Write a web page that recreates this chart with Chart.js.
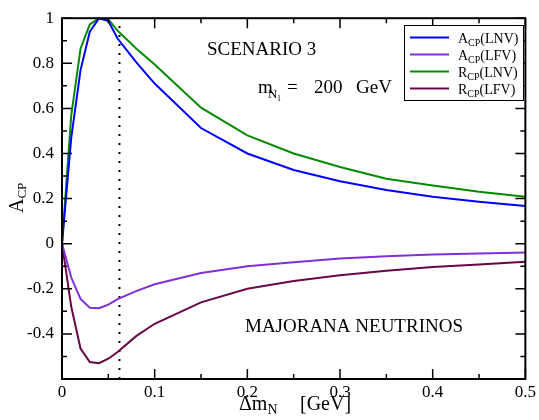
<!DOCTYPE html>
<html>
<head>
<meta charset="utf-8">
<script src="https://cdn.jsdelivr.net/npm/chart.js@4"></script>
<style>
  html, body { margin: 0; padding: 0; background: #fff; }
  #wrap { width: 539px; height: 420px; }
</style>
</head>
<body>
<div id="wrap"><canvas id="grafik"></canvas></div>
<script>
// data (delta m_N in GeV)
const xValues = [0, 0.01, 0.02, 0.03, 0.04, 0.05, 0.06, 0.08, 0.1, 0.15, 0.2, 0.25, 0.3, 0.35, 0.4, 0.45, 0.5];
const aCpLnv = [0, 0.47, 0.77, 0.94, 1.0, 0.987, 0.91, 0.805, 0.71, 0.513, 0.40, 0.327, 0.277, 0.238, 0.208, 0.186, 0.167];
const aCpLfv = [0, -0.15, -0.245, -0.284, -0.286, -0.27, -0.246, -0.21, -0.18, -0.13, -0.10, -0.082, -0.066, -0.056, -0.048, -0.043, -0.039];
const rCpLnv = [0, 0.57, 0.865, 0.972, 1.0, 0.995, 0.945, 0.866, 0.795, 0.603, 0.48, 0.40, 0.34, 0.288, 0.258, 0.23, 0.208];
const rCpLfv = [0, -0.28, -0.465, -0.525, -0.53, -0.51, -0.48, -0.41, -0.355, -0.26, -0.20, -0.165, -0.14, -0.12, -0.103, -0.092, -0.08];
const markerX = 0.062;   // dotted vertical line
const xRange = [0, 0.5];
const yRange = [-0.6, 1];

// legend text: [main, subscript, rest]
const legendParts = [['A', 'CP', '(LNV)'], ['A', 'CP', '(LFV)'], ['R', 'CP', '(LNV)'], ['R', 'CP', '(LFV)']];
const warna = ['#0000ff', '#8030d8', '#008b00', '#670748'];

const serif = '"Liberation Serif", "Times New Roman", serif';

function toPoints(ys) {
    return xValues.map((x, i) => ({ x: x, y: ys[i] }));
}

// text with subscript helper
function drawSub(ctx, x, y, parts, size, subSize, drop) {
    ctx.font = size + 'px ' + serif;
    ctx.fillText(parts[0], x, y);
    x += ctx.measureText(parts[0]).width;
    ctx.font = subSize + 'px ' + serif;
    ctx.fillText(parts[1], x, y + drop);
    x += ctx.measureText(parts[1]).width;
    if (parts[2]) {
        ctx.font = size + 'px ' + serif;
        ctx.fillText(parts[2], x, y);
        x += ctx.measureText(parts[2]).width;
    }
    return x;
}

const framePlugin = {
    id: 'frame',
    afterDraw(chart) {
        const ctx = chart.ctx;
        const a = chart.chartArea;
        const sx = chart.scales.x, sy = chart.scales.y;
        ctx.save();
        ctx.strokeStyle = '#000';
        // tick marks, pointing inward on all four sides
        ctx.lineWidth = 1.5;
        ctx.beginPath();
        for (let i = 0; i <= 10; i++) {
            const px = sx.getPixelForValue(i * 0.05);
            const len = i % 2 === 0 ? 10 : 5;
            ctx.moveTo(px, a.bottom); ctx.lineTo(px, a.bottom - len);
            ctx.moveTo(px, a.top); ctx.lineTo(px, a.top + len);
        }
        for (let i = -6; i <= 10; i++) {
            const py = sy.getPixelForValue(i / 10);
            const len = i % 2 === 0 ? 10 : 5;
            ctx.moveTo(a.left, py); ctx.lineTo(a.left + len, py);
            ctx.moveTo(a.right, py); ctx.lineTo(a.right - len, py);
        }
        ctx.stroke();
        ctx.lineWidth = 2;
        ctx.strokeRect(a.left, a.top, a.right - a.left, a.bottom - a.top);

        // legend box
        const lx = 404, ly = 25, lw = 119, lh = 75;
        ctx.fillStyle = '#fff';
        ctx.fillRect(lx, ly, lw, lh);
        ctx.lineWidth = 1;
        ctx.strokeRect(lx + 0.5, ly + 0.5, lw, lh);
        ctx.fillStyle = '#000';
        ctx.textBaseline = 'alphabetic';
        ctx.textAlign = 'left';
        const rowY = [37.5, 54.5, 71.5, 88.5];
        for (let i = 0; i < 4; i++) {
            ctx.strokeStyle = warna[i];
            ctx.lineWidth = 2;
            ctx.beginPath();
            ctx.moveTo(410, rowY[i]); ctx.lineTo(449, rowY[i]);
            ctx.stroke();
            drawSub(ctx, 458, rowY[i] + 5, legendParts[i], 14, 10, 3);
        }

        // annotations
        ctx.font = '19px ' + serif;
        ctx.fillText('SCENARIO 3', 207, 55);
        ctx.fillText('MAJORANA NEUTRINOS', 245, 332);
        ctx.fillText('m', 258, 93);
        ctx.font = '13px ' + serif;
        ctx.fillText('N', 268, 98);
        ctx.font = '8px ' + serif;
        ctx.fillText('1', 277, 101);
        ctx.font = '19px ' + serif;
        ctx.fillText('=', 287, 93);
        ctx.fillText('200', 314, 93);
        ctx.fillText('GeV', 356, 93);

        // axis titles
        drawSub(ctx, 239, 410, ['\u0394m', 'N', ''], 20, 14, 4);
        ctx.font = '20px ' + serif;
        ctx.fillText('[GeV]', 300, 410);

        ctx.translate(23, 213);
        ctx.rotate(-Math.PI / 2);
        drawSub(ctx, 0, 0, ['A', 'CP', ''], 20, 13, 3);
        ctx.restore();
    }
};

const lineSet = (label, ys, color) => ({
    label: label,
    data: toPoints(ys),
    borderColor: color,
    backgroundColor: color,
    borderWidth: 2,
    pointRadius: 0,
    tension: 0,
    fill: false
});

new Chart(document.getElementById('grafik').getContext('2d'), {
    type: 'line',
    data: {
        datasets: [
            lineSet('A_CP(LNV)', aCpLnv, warna[0]),
            lineSet('A_CP(LFV)', aCpLfv, warna[1]),
            lineSet('R_CP(LNV)', rCpLnv, warna[2]),
            lineSet('R_CP(LFV)', rCpLfv, warna[3]),
            {
                label: 'marker',
                data: [{ x: markerX, y: yRange[0] }, { x: markerX, y: yRange[1] }],
                borderColor: '#000',
                borderWidth: 2,
                borderDash: [2, 7],
                pointRadius: 0
            }
        ]
    },
    options: {
        responsive: true,
        maintainAspectRatio: false,
        animation: false,
        layout: { padding: { left: 0, right: 12, top: 12, bottom: 0 } },
        plugins: {
            legend: { display: false },
            tooltip: { enabled: false }
        },
        scales: {
            x: {
                type: 'linear',
                min: xRange[0],
                max: xRange[1],
                grid: { display: false, drawTicks: false },
                border: { display: false },
                ticks: {
                    stepSize: 0.1,
                    padding: 3,
                    color: '#000',
                    font: { family: serif, size: 17 },
                    maxRotation: 0,
                    callback: function(value) {
                        return Math.round(value * 10) / 10;
                    }
                },
                afterFit: function(scale) { scale.height = 41; }
            },
            y: {
                min: yRange[0],
                max: yRange[1],
                grid: { display: false, drawTicks: false },
                border: { display: false },
                ticks: {
                    stepSize: 0.2,
                    padding: 8,
                    color: '#000',
                    font: { family: serif, size: 17 },
                    callback: function(value) {
                        if (Math.abs(value - yRange[0]) < 1e-9) return '';
                        return Math.round(value * 10) / 10;
                    }
                },
                afterFit: function(scale) { scale.width = 62; }
            }
        }
    },
    plugins: [framePlugin]
});
</script>
</body>
</html>
